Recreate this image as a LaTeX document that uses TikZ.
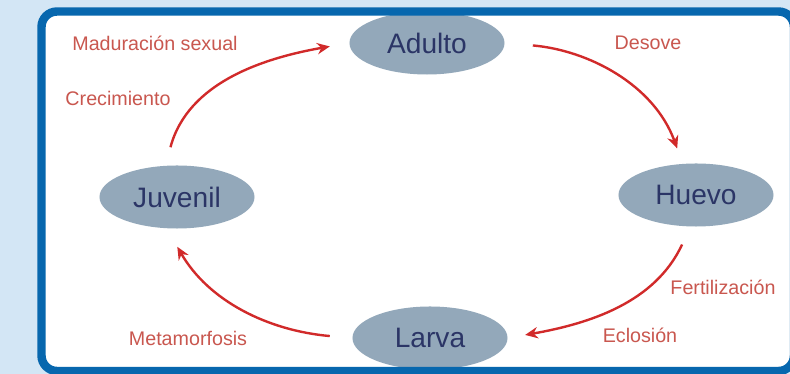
\documentclass[tikz,border=0pt]{standalone}
\usepackage{fontspec}
\setmainfont{Liberation Sans}
\usepackage{xcolor}
\usetikzlibrary{arrows.meta,shapes.geometric}
\definecolor{skyback}{HTML}{D3E6F5}
\definecolor{frameblue}{HTML}{0767AE}
\definecolor{stagegrey}{HTML}{93A8BA}
\definecolor{stagetext}{HTML}{2B3566}
\definecolor{arrowred}{HTML}{D12A2A}
\definecolor{notered}{HTML}{C9574F}
\begin{document}
\begin{tikzpicture}[
    x=0.025cm, y=0.025cm,
    stage/.style={ellipse,fill=stagegrey,draw=none,minimum width=3.875cm,minimum height=1.575cm,inner sep=0pt,font=\fontsize{20}{22}\selectfont,text=stagetext},
    arrow/.style={-{Stealth[length=9pt,width=8pt]},line width=1.7pt,arrowred},
    note/.style={font=\fontsize{14}{16}\selectfont,text=notered}
]
\useasboundingbox (0,0) rectangle (790,374);
\fill[skyback] (0,0) rectangle (790,374);
\clip (0,0) rectangle (790,374);
\fill[white,rounded corners=11pt] (41.5,3) rectangle (794,362.5);

\node[stage] (adulto) at (427,331) {Adulto};
\node[stage] (huevo) at (696,179) {Huevo};
\node[stage] (juvenil) at (177,177) {Juvenil};
\node[stage] (larva) at (430,36) {Larva};

\draw[frameblue,line width=6pt,rounded corners=11pt] (41.5,3) rectangle (794,362.5);

\draw[arrow,shorten <=13.5pt,shorten >=14pt] (juvenil.110) to[out=75,in=190] (adulto.west);
\draw[arrow,shorten <=20pt,shorten >=11.5pt] (adulto.east) to[out=-5,in=110] (huevo.113);
\draw[arrow,shorten <=14pt,shorten >=12.5pt] (huevo.-100) to[out=245,in=10] (larva.east);
\draw[arrow,shorten <=16pt,shorten >=15pt] (larva.west) to[out=175,in=-60] (juvenil.-108);

\node[note] (maduracion) at (155,331) {Maduración sexual};
\node[note] (crecimiento) at (118,276) {Crecimiento};
\node[note] (desove) at (648,331) {Desove};
\node[note] (fertilizacion) at (723,87) {Fertilización};
\node[note] (eclosion) at (640,39) {Eclosión};
\node[note] (metamorfosis) at (188,36) {Metamorfosis};
\end{tikzpicture}
\end{document}
